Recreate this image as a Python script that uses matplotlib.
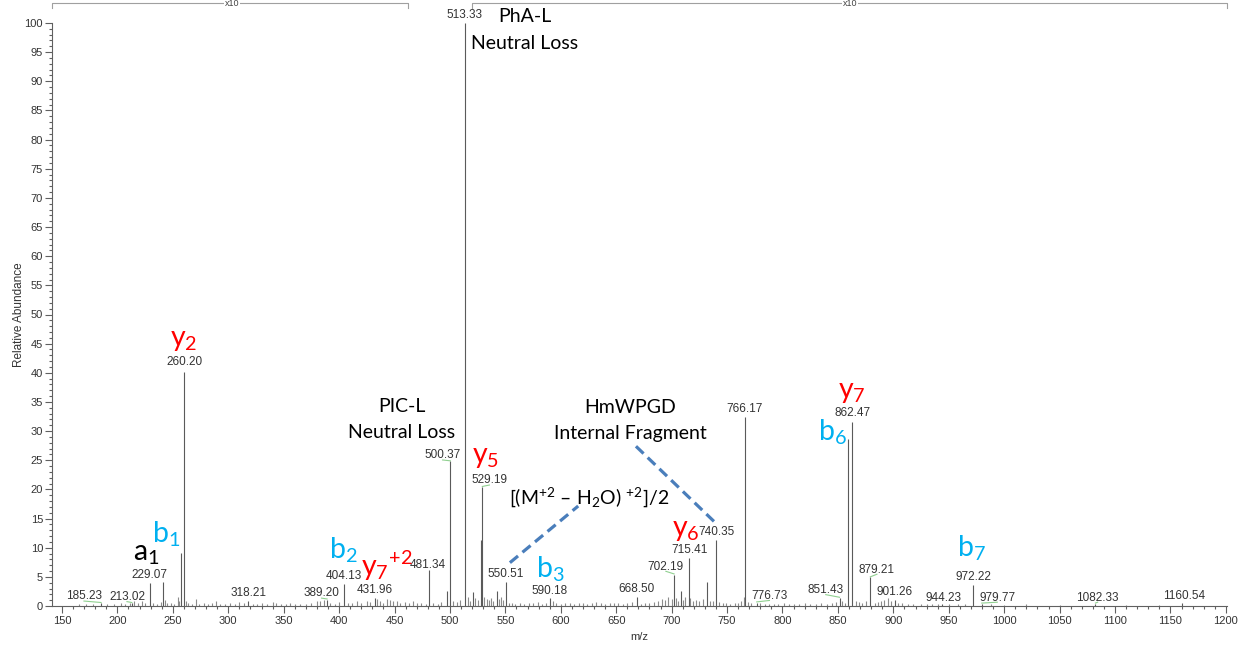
import matplotlib
matplotlib.use('Agg')
import matplotlib.pyplot as plt
from matplotlib.ticker import MultipleLocator
import numpy as np

plt.rcParams['font.family'] = ['Liberation Sans', 'DejaVu Sans']
plt.rcParams['mathtext.fontset'] = 'custom'
plt.rcParams['mathtext.rm'] = 'Lato'
plt.rcParams['mathtext.it'] = 'Lato:italic'
plt.rcParams['mathtext.bf'] = 'Lato:bold'

# ---------------- data ----------------
# labelled peaks (m/z, relative abundance as displayed)
label_mz = [185.23, 213.02, 229.07, 260.20, 318.21, 389.20, 404.13, 431.96, 481.34,
            500.37, 513.33, 529.19, 550.51, 590.18, 668.50, 702.19, 715.41, 740.35,
            766.17, 776.73, 851.43, 862.47, 879.21, 901.26, 944.23, 972.22, 979.77,
            1082.33, 1160.54]
label_int = [0.5, 0.5, 3.9, 40.2, 0.8, 1.1, 3.8, 1.4, 6.2,
             24.8, 100.0, 20.4, 4.2, 1.3, 1.6, 5.4, 8.2, 11.3,
             32.4, 0.6, 1.4, 31.6, 4.9, 1.1, 0.4, 3.6, 0.4,
             0.4, 0.6]

# other notable (unlabelled) peaks
other_mz = [241.1, 257.5, 497.0, 521.0, 527.9, 542.0, 708.0, 732.0, 859.2]
other_int = [4.2, 9.1, 2.6, 2.4, 11.3, 2.5, 2.5, 4.2, 28.6]

# small background peaks
noise_mz = [165, 172, 178, 191, 197, 203, 207, 211, 215, 219, 222, 225, 232, 236, 239,
            243, 245, 248, 251, 255, 256, 262, 264, 267, 271, 274, 278, 282, 285, 289,
            293, 297, 302, 306, 310, 314, 322, 326, 330, 335, 340, 343, 348, 352, 356,
            360, 365, 370, 375, 380, 383, 386, 392, 396, 400, 408, 412, 416, 420, 425,
            428, 434, 437, 440, 443, 446, 449, 452, 455, 459, 463, 467, 470, 474, 478,
            485, 489, 492, 503, 506, 509, 516, 518, 523, 525, 531, 533, 535, 537, 539,
            544, 546, 548, 553, 556, 559, 563, 567, 571, 575, 579, 583, 587, 593, 596,
            600, 604, 608, 612, 616, 620, 624, 628, 632, 636, 640, 644, 648, 652, 656,
            660, 664, 672, 676, 680, 684, 688, 691, 694, 697, 700, 704, 706, 710, 712,
            717, 719, 722, 725, 728, 735, 737, 743, 746, 749, 753, 757, 760, 763, 765,
            769, 772, 780, 784, 788, 792, 796, 801, 806, 810, 815, 820, 825, 830, 835,
            840, 845, 848, 854, 856, 866, 869, 872, 875, 883, 886, 889, 892, 895, 898,
            904, 908, 913, 918, 925, 930, 935, 940, 950, 958, 965, 988, 1000, 1020,
            1050, 1110, 1140]
noise_int = [0.3, 0.4, 0.3, 0.3, 0.4, 0.6, 0.3, 0.5, 0.8, 0.6, 0.9, 0.5, 0.6, 0.4, 0.7,
             1.0, 0.6, 0.5, 0.4, 1.5, 0.8, 0.8, 0.6, 0.4, 1.2, 0.4, 0.5, 0.3, 0.6, 0.8,
             0.3, 0.4, 0.6, 0.4, 0.7, 0.6, 0.4, 0.3, 0.6, 0.4, 0.7, 0.5, 0.4, 0.3, 0.5,
             0.4, 0.3, 0.4, 0.6, 0.8, 0.9, 1.0, 0.5, 0.4, 0.7, 0.5, 0.6, 0.8, 0.5, 0.9,
             0.7, 1.2, 0.8, 0.6, 1.2, 1.0, 0.9, 0.8, 0.6, 0.7, 0.5, 0.8, 0.6, 0.5, 0.4,
             0.5, 0.4, 0.7, 0.8, 0.7, 1.0, 1.5, 0.9, 1.3, 1.0, 1.5, 1.2, 1.0, 1.4, 0.9,
             1.2, 1.6, 1.0, 0.6, 0.5, 0.4, 0.6, 0.4, 0.5, 0.6, 0.7, 0.4, 0.6, 0.8, 0.5,
             0.4, 0.6, 0.5, 0.4, 0.6, 0.5, 0.4, 0.6, 0.7, 0.5, 0.4, 0.6, 0.5, 0.6, 0.4,
             0.5, 0.7, 0.4, 0.6, 0.5, 0.7, 0.9, 1.2, 1.0, 1.5, 1.2, 1.3, 0.9, 1.0, 1.6,
             1.3, 0.9, 1.0, 0.8, 1.2, 0.9, 0.8, 0.7, 0.6, 0.5, 0.4, 0.6, 0.5, 0.8, 1.5,
             0.7, 0.6, 0.5, 0.4, 0.3, 0.4, 0.3, 0.5, 0.4, 0.3, 0.4, 0.5, 0.4, 0.3, 0.5,
             0.4, 0.6, 0.7, 0.8, 0.6, 0.9, 0.7, 0.6, 0.8, 0.6, 0.7, 0.9, 1.1, 1.3, 0.8,
             0.6, 0.5, 0.4, 0.4, 0.3, 0.4, 0.3, 0.4, 0.3, 0.3, 0.4, 0.3, 0.2, 0.3,
             0.2, 0.2, 0.2]

# ion annotations
ion_text = [r'$\mathrm{a}_{1}$', r'$\mathrm{b}_{1}$', r'$\mathrm{y}_{2}$', r'$\mathrm{b}_{2}$',
            r'$\mathrm{y}_{7}{}^{+2}$', r'$\mathrm{y}_{5}$', r'$\mathrm{b}_{3}$', r'$\mathrm{y}_{6}$',
            r'$\mathrm{y}_{7}$', r'$\mathrm{b}_{6}$', r'$\mathrm{b}_{7}$']
ion_kind = ['a', 'b', 'y', 'b', 'y', 'y', 'b', 'y', 'y', 'b', 'b']

# ---------------- layout (label offsets, in data units) ----------------
label_offset = {185.23: (-15.4, -0.2), 213.02: (-4.4, -0.3), 260.20: (0.5, 0.3),
                389.20: (-5.0, -0.3), 481.34: (-1.2, -0.5), 500.37: (-7.0, -0.3),
                529.19: (6.4, -0.2), 702.19: (-7.4, 0.0), 715.41: (1.0, 0.0),
                776.73: (11.5, -0.2), 851.43: (-12.4, 0.0), 862.47: (0.5, 0.1),
                879.21: (6.0, 0.0), 944.23: (1.4, -0.3), 979.77: (14.0, -0.3),
                1082.33: (2.0, -0.3), 1160.54: (1.6, -0.3)}
ion_pos = [(225.6, 6.7), (244.3, 9.8), (260.0, 43.4), (403.5, 7.0), (443.0, 3.9),
           (532.5, 23.3), (590.2, 3.8), (712.9, 10.75), (862.6, 34.4), (845.3, 27.2),
           (970.9, 7.3)]
ion_colors = {'a': 'black', 'b': '#00b0f0', 'y': '#ff0000'}

fig = plt.figure(figsize=(12.47, 6.47), dpi=100)
ax = fig.add_axes([52 / 1247, 41 / 647, 1175 / 1247, 583 / 647])
ax.set_xlim(141, 1201)
ax.set_ylim(0, 100)

ax.vlines(noise_mz, 0, noise_int, colors='#8c8c8c', lw=0.8)
ax.vlines(other_mz, 0, other_int, colors='#5a5a5a', lw=0.8)
ax.vlines(label_mz, 0, label_int, colors='#5a5a5a', lw=0.8, clip_on=False)

# numeric peak labels
for mz, h in zip(label_mz, label_int):
    dx, dy = label_offset.get(mz, (0.0, 0.0))
    lx, ly = mz + dx, h + 1.35 + dy
    ax.text(lx, ly, f'{mz:.2f}', ha='center', va='center', fontsize=8.5,
            color='#333333', clip_on=False)
    if abs(dx) >= 2:
        ax.plot([lx, mz], [ly - 0.8, h + 0.1], color='#90d090', lw=0.8, clip_on=False)

# ion labels
for t, k, (x, y) in zip(ion_text, ion_kind, ion_pos):
    ax.text(x, y, t, ha='center', va='bottom', fontsize=20.5, color=ion_colors[k])

# descriptive annotations
big = dict(fontsize=14, family=['Lato', 'DejaVu Sans'], color='black', ha='center', va='center')
ax.text(567.6, 101.1, 'PhA-L', clip_on=False, **big)
ax.text(567.6, 96.4, 'Neutral Loss', **big)
ax.text(456.7, 34.2, 'PIC-L', **big)
ax.text(456.7, 29.7, 'Neutral Loss', **big)
ax.text(662.8, 34.1, 'HmWPGD', **big)
ax.text(662.8, 29.6, 'Internal Fragment', **big)
ax.text(625.4, 18.6, r'$[(\mathrm{M}^{+2}\ \mathrm{–}\ \mathrm{H}_{2}\mathrm{O})\ ^{+2}]/2$',
        fontsize=14, color='black', ha='center', va='center')

dash = dict(color='#4a7ebb', lw=2.3, linestyle=(0, (3.3, 1.8)), solid_capstyle='butt')
ax.plot([554.1, 615.7], [7.43, 17.15], **dash)
ax.plot([667.8, 739.9], [27.4, 14.2], **dash)

# x10 brackets
for x0, x1, xm in [(141.3, 462.4, 303.3), (519.6, 1200.8, 860.8)]:
    ax.plot([x0, x0, x1, x1], [102.55, 103.4, 103.4, 102.55], color='#a0a0a0',
            lw=0.8, clip_on=False)
    ax.text(xm, 103.4, 'x10', ha='center', va='center', fontsize=6.5, color='#444444',
            bbox=dict(facecolor='white', edgecolor='none', pad=0.3), clip_on=False)

# axes styling
for s in ['top', 'right']:
    ax.spines[s].set_visible(False)
for s in ['left', 'bottom']:
    ax.spines[s].set_color('#606060')
    ax.spines[s].set_linewidth(0.8)

ax.set_xticks(np.arange(150, 1201, 50))
ax.xaxis.set_minor_locator(MultipleLocator(10))
ax.set_yticks(np.arange(0, 101, 5))
ax.yaxis.set_minor_locator(MultipleLocator(1))
ax.tick_params(which='major', direction='out', length=5, width=0.8, color='#606060',
               labelsize=8, labelcolor='#333333', pad=1.5)
ax.tick_params(which='minor', direction='out', length=2.5, width=0.8, color='#606060')
ax.tick_params(axis='x', which='major', pad=2.5)

ax.set_xlabel('m/z', fontsize=8, color='#333333', labelpad=4)
ax.set_ylabel('Relative Abundance', fontsize=8.5, color='#333333', labelpad=-0.5)

fig.savefig('out.png', dpi=100)
